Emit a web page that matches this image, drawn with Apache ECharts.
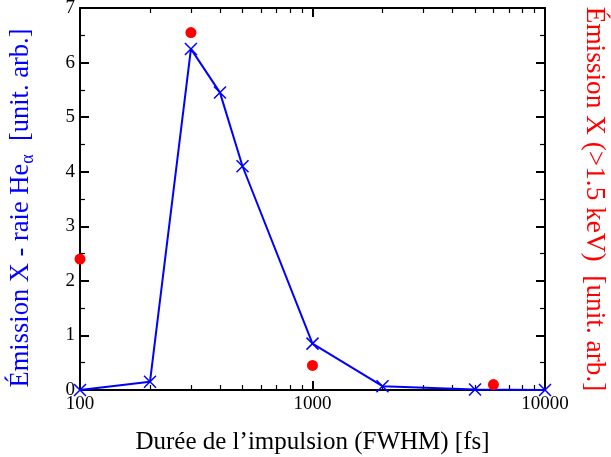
<!DOCTYPE html>
<html><head><meta charset="utf-8">
<script src="https://cdn.jsdelivr.net/npm/echarts@6/dist/echarts.min.js"></script>
<style>html,body{margin:0;padding:0;background:#fff}#c{width:611px;height:457px}</style>
</head><body><div id="c"></div>
<script>
const heDuration = [100, 200, 300, 400, 500, 1000, 2000, 5000, 10000];
const heEmission = [0.0, 0.15, 6.25, 5.45, 4.1, 0.85, 0.07, 0.01, 0.0];
const hxDuration = [100, 300, 1000, 6000];
const hxEmission = [2.4, 6.55, 0.45, 0.1];
const xMajorTicks = [100, 1000, 10000];
const xMinorTicks = [200, 300, 400, 500, 600, 700, 800, 900, 2000, 3000, 4000, 5000, 6000, 7000, 8000, 9000];
const xTitle = 'Durée de l\u2019impulsion (FWHM) [fs]';
const yLeftTitle = ['Émission X - raie He', 'α', '  [unit. arb.]'];
const yRightTitle = 'Émission X (>1.5 keV)  [unit. arb.]';

const FONT = 'Liberation Serif';
const black = '#000';
function xAx(pos, minor, labels) {
  return {
    type: 'log', logBase: 10, min: 100, max: 10000, position: pos, gridIndex: 0,
    axisLine: { show: !minor, lineStyle: { color: black, width: 2 } },
    axisTick: { show: true, inside: true, length: minor ? 5 : 9, lineStyle: { color: black, width: minor ? 1.2 : 2 },
      customValues: minor ? xMinorTicks : xMajorTicks },
    axisLabel: { show: labels, fontFamily: FONT, fontSize: 19, color: black, margin: 5,
      customValues: xMajorTicks, formatter: v => String(Math.round(v)) },
    splitLine: { show: false }, minorTick: { show: false }
  };
}
function yAx(pos, labels) {
  return {
    type: 'value', min: 0, max: 7, interval: 1, position: pos,
    axisLine: { show: true, lineStyle: { color: black, width: 2 } },
    axisTick: { show: true, inside: true, length: 9, lineStyle: { color: black, width: 2 } },
    minorTick: { show: true, splitNumber: 2, length: 5, lineStyle: { color: black, width: 1.2 } },
    axisLabel: { show: labels, fontFamily: FONT, fontSize: 19, color: black, margin: 5 },
    splitLine: { show: false }
  };
}
const x0 = xAx('bottom', false, true);
x0.name = xTitle; x0.nameLocation = 'middle'; x0.nameGap = 40;
x0.nameTextStyle = { fontFamily: FONT, fontSize: 25, color: black };
const yL = yAx('left', true);
yL.name = '{a|' + yLeftTitle[0] + '}{s|' + yLeftTitle[1] + '}{a|' + yLeftTitle[2] + '}';
yL.nameLocation = 'middle'; yL.nameGap = 43;
yL.nameTextStyle = { fontFamily: FONT, fontSize: 26.5, color: '#0000ff', padding: [0, 18, 0, 0],
  rich: { a: { fontFamily: FONT, fontSize: 26.5, color: '#0000ff' },
          s: { fontFamily: FONT, fontSize: 18, color: '#0000ff', verticalAlign: 'bottom', padding: [14, 0, 0, 0] } } };
const yR = yAx('right', false);
yR.name = yRightTitle; yR.nameLocation = 'middle'; yR.nameGap = 36; yR.nameRotate = -90;
yR.nameTextStyle = { fontFamily: FONT, fontSize: 27.3, color: '#ff0000' };

const chart = echarts.init(document.getElementById('c'));
chart.setOption({
  backgroundColor: '#fff',
  animation: false,
  grid: { left: 80, right: 66, top: 8, bottom: 67, containLabel: false, outerBoundsMode: 'none' },
  xAxis: [x0, xAx('bottom', true, false), xAx('top', false, false), xAx('top', true, false)],
  yAxis: [yL, yR],
  series: [
    { type: 'line', xAxisIndex: 0, yAxisIndex: 0,
      data: heDuration.map((d, i) => [d, heEmission[i]]),
      lineStyle: { color: '#0000ff', width: 2 },
      symbol: 'path://M0,0L10,10M10,0L0,10', symbolSize: 12,
      itemStyle: { color: 'none', borderColor: '#0000ff', borderWidth: 1.5 }, z: 3 },
    { type: 'scatter', xAxisIndex: 0, yAxisIndex: 0,
      data: hxDuration.map((d, i) => [d, hxEmission[i]]),
      symbol: 'circle', symbolSize: 11, itemStyle: { color: '#ff0000', opacity: 1 }, z: 4 }
  ]
});
</script></body></html>
